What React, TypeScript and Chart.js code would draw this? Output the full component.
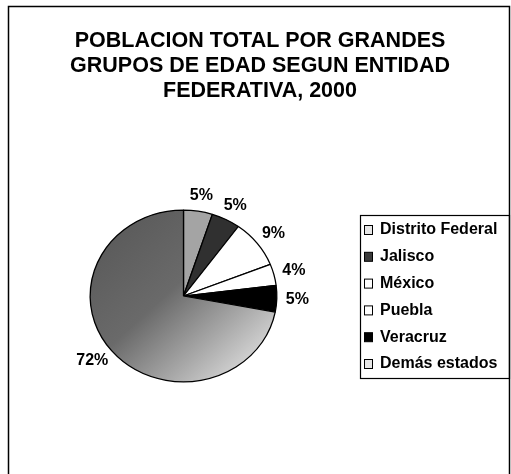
import React, { useEffect, useRef } from "react";
import { Chart, registerables } from "chart.js";

Chart.register(...registerables);

const titleLines = [
  "POBLACION TOTAL POR GRANDES",
  "GRUPOS DE EDAD SEGUN ENTIDAD",
  "FEDERATIVA, 2000",
];
const categories = ["Distrito Federal", "Jalisco", "México", "Puebla", "Veracruz", "Demás estados"];
const shares = [5, 5, 9, 4, 5, 72];
const sliceColors = ["#a4a4a4", "#303030", "#ffffff", "#ffffff", "#000000", "DEMAS"];
const legendColors = ["#e6e6e6", "#3a3a3a", "#ffffff", "#ffffff", "#000000", "#e6e6e6"];

const W = 511;
const H = 474;
const SY = 0.92;
const FONT = "'Liberation Sans', Arial, sans-serif";

const ellipsePlugin = {
  id: "ellipse",
  beforeDatasetsDraw(chart: any) {
    const arc = chart.getDatasetMeta(0).data[0];
    if (!arc) return;
    const { x, y } = arc;
    const ctx = chart.ctx;
    ctx.save();
    ctx.translate(x, y);
    ctx.scale(1, SY);
    ctx.translate(-x, -y);
  },
  afterDatasetsDraw(chart: any) {
    chart.ctx.restore();
  },
};

const decorPlugin = {
  id: "decor",
  afterDraw(chart: any) {
    const ctx = chart.ctx as CanvasRenderingContext2D;
    ctx.save();
    // outer frame
    ctx.strokeStyle = "#000";
    ctx.lineWidth = 1.5;
    ctx.beginPath();
    ctx.moveTo(8.5, H);
    ctx.lineTo(8.5, 6.5);
    ctx.lineTo(509.5, 6.5);
    ctx.lineTo(509.5, H);
    ctx.stroke();

    // title
    ctx.fillStyle = "#000";
    ctx.font = `bold 21.5px ${FONT}`;
    ctx.textAlign = "center";
    ctx.textBaseline = "middle";
    titleLines.forEach((t, i) => ctx.fillText(t, 260, 41 + i * 25));

    // data labels
    const meta = chart.getDatasetMeta(0);
    const values = chart.data.datasets[0].data as number[];
    ctx.font = `bold 16px ${FONT}`;
    meta.data.forEach((arc: any, i: number) => {
      const { x, y, startAngle, endAngle, outerRadius } = arc.getProps(
        ["x", "y", "startAngle", "endAngle", "outerRadius"],
        true
      );
      const mid = (startAngle + endAngle) / 2;
      const c = Math.cos(mid);
      const s = Math.sin(mid);
      const txt = `${values[i]}%`;
      const hw = ctx.measureText(txt).width / 2;
      const hh = 7;
      const d = 9;
      const lx = x + outerRadius * c + d * c + hw * c;
      const ly = y + outerRadius * s * SY + d * s + hh * s;
      ctx.fillText(txt, lx, ly);
    });

    // legend
    const lx0 = 360.5, ly0 = 215.5, lx1 = 509.5, ly1 = 378.5;
    ctx.lineWidth = 1.2;
    ctx.strokeRect(lx0, ly0, lx1 - lx0, ly1 - ly0);
    ctx.textAlign = "left";
    ctx.font = `bold 16px ${FONT}`;
    (chart.data.labels as string[]).forEach((lab, i) => {
      const cy = 230 + i * 26.8;
      ctx.fillStyle = legendColors[i];
      ctx.fillRect(364.5, cy - 4.5, 8, 9);
      ctx.strokeStyle = "#000";
      ctx.lineWidth = 1;
      ctx.strokeRect(364.5, cy - 4.5, 8, 9);
      ctx.fillStyle = "#000";
      ctx.fillText(lab, 380, cy);
    });
    ctx.restore();
  },
};

export default function App() {
  const ref = useRef<HTMLCanvasElement | null>(null);
  useEffect(() => {
    if (!ref.current) return;
    const chart = new Chart(ref.current, {
      type: "pie",
      data: {
        labels: categories,
        datasets: [
          {
            data: shares,
            backgroundColor: (ctx: any) => {
              const col = sliceColors[ctx.dataIndex];
              if (col !== "DEMAS") return col;
              const ch = ctx.chart;
              const a = ch.chartArea;
              if (!a) return "#888";
              const g = ch.ctx.createLinearGradient(a.left, a.top, a.right, a.bottom);
              g.addColorStop(0, "#555555");
              g.addColorStop(0.45, "#6a6a6a");
              g.addColorStop(0.7, "#a8a8a8");
              g.addColorStop(0.9, "#dcdcdc");
              return g;
            },
            borderColor: "#000",
            borderWidth: 1.3,
          },
        ],
      },
      options: {
        responsive: false,
        animation: false,
        layout: { padding: { left: 89, right: 233, top: 202, bottom: 84 } },
        plugins: {
          legend: { display: false },
          tooltip: { enabled: false },
          title: { display: false },
        },
      },
      plugins: [ellipsePlugin, decorPlugin],
    });
    return () => chart.destroy();
  }, []);
  return (
    <div style={{ position: "absolute", left: 0, top: 0, width: W, height: H, background: "#fff" }}>
      <canvas ref={ref} width={W} height={H} style={{ display: "block" }} />
    </div>
  );
}
